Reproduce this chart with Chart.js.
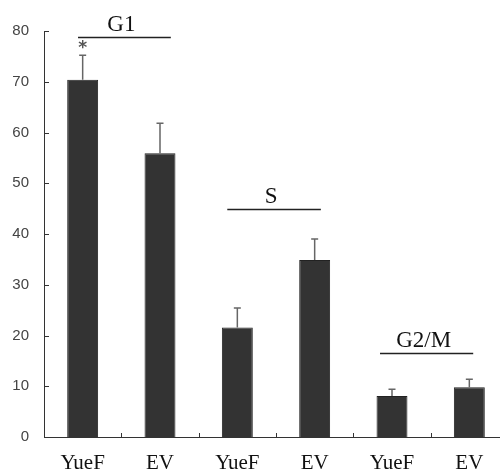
<!DOCTYPE html>
<html>
<head>
<meta charset="utf-8">
<script src="https://cdn.jsdelivr.net/npm/chart.js@4.4.1/dist/chart.umd.min.js"></script>
<style>
  html, body { margin: 0; padding: 0; background: #fff; overflow: hidden; }
  #wrap { width: 510px; height: 475px; }
</style>
</head>
<body>
<div id="wrap"><canvas id="chart" width="510" height="475"></canvas></div>
<script>
// data
const categories = ["YueF", "EV", "YueF", "EV", "YueF", "EV"];
const values = [70.4, 55.9, 21.6, 34.9, 8.1, 9.8];
const errors = [4.8, 5.9, 3.8, 4.1, 1.3, 1.6];
const groupNames = ["G1", "S", "G2/M"];
const groupStart = [0, 2, 4];
const groupEnd = [1, 3, 5];
const yTicks = [0, 10, 20, 30, 40, 50, 60, 70, 80];

// errors bars, inward ticks, group brackets and the asterisk
const extrasPlugin = {
    id: 'extras',
    afterDatasetsDraw(chart, args, opts) {
        const ctx = chart.ctx;
        const x = chart.scales.x;
        const y = chart.scales.y;
        const area = chart.chartArea;
        ctx.save();

        // error bars (upper only)
        ctx.strokeStyle = '#666';
        ctx.lineWidth = 1.5;
        values.forEach((v, i) => {
            const px = x.getPixelForValue(i);
            const top = y.getPixelForValue(v + errors[i]);
            ctx.beginPath();
            ctx.moveTo(px, y.getPixelForValue(v));
            ctx.lineTo(px, top);
            ctx.moveTo(px - 3.5, top);
            ctx.lineTo(px + 3.5, top);
            ctx.stroke();
        });

        // inward tick marks
        ctx.strokeStyle = '#333';
        ctx.lineWidth = 1;
        yTicks.forEach(t => {
            const py = Math.round(y.getPixelForValue(t)) + 0.5;
            ctx.beginPath();
            ctx.moveTo(area.left, py);
            ctx.lineTo(area.left + 5, py);
            ctx.stroke();
        });
        for (let i = 0; i < categories.length - 1; i++) {
            const px = Math.round((x.getPixelForValue(i) + x.getPixelForValue(i + 1)) / 2) + 0.5;
            ctx.beginPath();
            ctx.moveTo(px, area.bottom);
            ctx.lineTo(px, area.bottom - 4);
            ctx.stroke();
        }

        // group brackets
        const step = x.getPixelForValue(1) - x.getPixelForValue(0);
        ctx.font = '23px "Liberation Serif", serif';
        ctx.textAlign = 'center';
        ctx.textBaseline = 'alphabetic';
        groupNames.forEach((name, g) => {
            const b = opts.brackets[g];
            const x0 = x.getPixelForValue(groupStart[g]) + b.from * step;
            const x1 = x.getPixelForValue(groupEnd[g]) + b.to * step;
            const py = Math.round(y.getPixelForValue(b.y)) + 0.5;
            ctx.strokeStyle = '#222';
            ctx.lineWidth = 1.3;
            ctx.beginPath();
            ctx.moveTo(x0, py);
            ctx.lineTo(x1, py);
            ctx.stroke();
            ctx.fillStyle = '#111';
            ctx.fillText(name, (x0 + x1) / 2 - 3, py - 7);
        });

        // significance mark
        ctx.fillStyle = '#555';
        ctx.font = 'bold 17px "DejaVu Sans", sans-serif';
        ctx.textBaseline = 'middle';
        ctx.fillText('*', x.getPixelForValue(0), y.getPixelForValue(opts.starAt) + 4);

        ctx.restore();
    }
};

const chart = new Chart(document.getElementById('chart'), {
    type: 'bar',
    data: {
        labels: categories,
        datasets: [{
            data: values,
            backgroundColor: '#333333',
            borderColor: '#222222',
            borderWidth: 1,
            barPercentage: 0.4,
            categoryPercentage: 1.0
        }]
    },
    options: {
        responsive: false,
        animation: false,
        devicePixelRatio: 1,
        layout: { padding: { top: 31, right: 2, left: 0, bottom: 0 } },
        plugins: {
            legend: { display: false },
            tooltip: { enabled: false },
            extras: {
                starAt: 77.4,
                brackets: [
                    { y: 78.9, from: -0.06, to: 0.14 },
                    { y: 44.9, from: -0.13, to: 0.08 },
                    { y: 16.6, from: -0.155, to: 0.05 }
                ]
            }
        },
        scales: {
            x: {
                grid: { display: false, drawTicks: false },
                border: { color: '#333', width: 1 },
                ticks: {
                    color: '#111',
                    padding: 14,
                    font: { family: '"Liberation Serif", serif', size: 21 }
                },
                afterFit(scale) { scale.height = 38; }
            },
            y: {
                min: 0,
                max: 80,
                grid: { display: false, drawTicks: false },
                border: { color: '#333', width: 1 },
                ticks: {
                    stepSize: 10,
                    color: '#444',
                    padding: 15,
                    font: { family: '"Liberation Sans", sans-serif', size: 15 }
                },
                afterFit(scale) { scale.width = 44; }
            }
        }
    },
    plugins: [extrasPlugin]
});
</script>
</body>
</html>
